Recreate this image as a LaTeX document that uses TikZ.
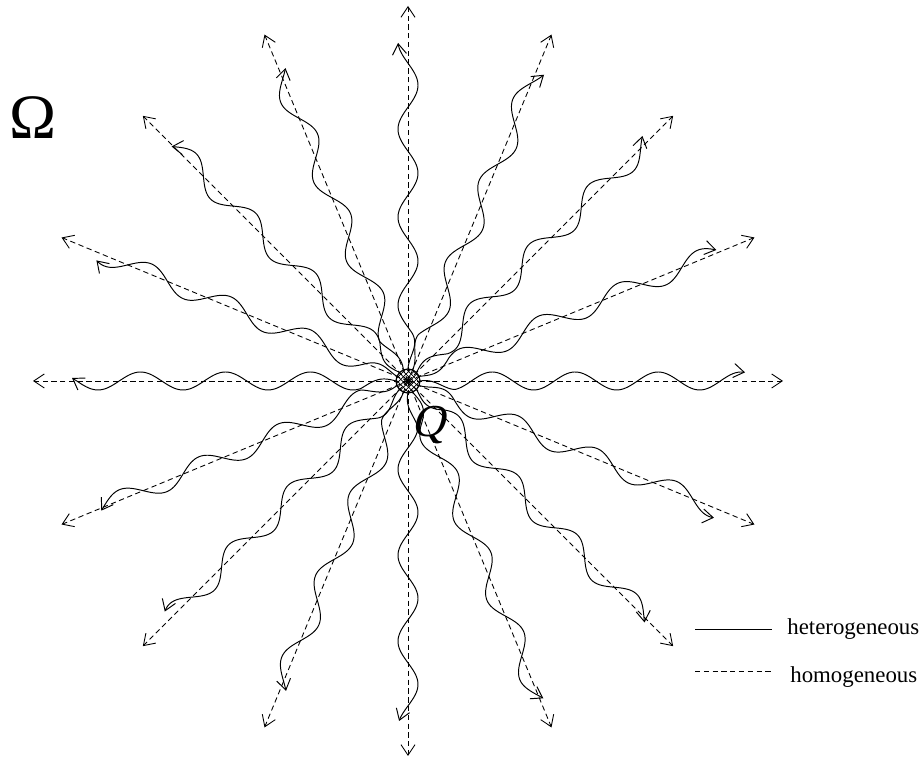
\documentclass[tikz,border=0pt]{standalone}
\usepackage{fontspec}
\setmainfont{Liberation Serif}
\newfontfamily\slantfont{Liberation Serif}[FakeSlant=0.25]
\usepackage{tikz}
\usetikzlibrary{arrows.meta,patterns}

\tikzset{
  tip/.style={-{Straight Barb[length=6pt,width=8pt]}},
  ray/.style={tip,dashed,dash pattern=on 3pt off 2pt,line width=0.5pt},
  wave/.style={tip,line width=0.55pt},
  legtext/.style={font=\fontsize{13}{15}\selectfont,anchor=base west,inner sep=0pt}
}

\begin{document}
\begin{tikzpicture}[x=0.02cm,y=0.02cm,line join=round]
\useasboundingbox (0,0) rectangle (923,759);
\coordinate (O) at (408,378);

% homogeneous rays
\foreach \a [count=\i] in {0,22.5,...,337.5}
  \draw[ray] (O) -- ++(\a:375) coordinate (h\i);

% heterogeneous rays: angle / length / amplitude / wavelength / phase
\foreach \a/\len/\amp/\wl/\ph in {
    0/337/9/83/85,
    22.5/335/10/86/200,
    45/339/11/84/30,
    67.5/335/11/88/300,
    90/338/10/88/140,
    112.5/336/11/86/250,
    135/333/11/84/20,
    157.5/334/10/86/170,
    180/336/9/85/217,
    202.5/333/10/86/60,
    225/335/11/84/310,
    247.5/333/11/88/110,
    270/340/10/86/260,
    292.5/345/11/86/15,
    315/338/11/84/190,
    337.5/335/10/86/330}
  \draw[wave] plot[domain=12:\len,samples=140,smooth]
    ({408+\x*cos(\a)-\amp*min(1,(\x-12)/35)*sin((360/\wl)*\x+\ph)*sin(\a)},
     {378+\x*sin(\a)+\amp*min(1,(\x-12)/35)*sin((360/\wl)*\x+\ph)*cos(\a)});

% source
\draw[line width=0.7pt,pattern=crosshatch] (O) circle (12);
\node[inner sep=0pt] (q) at (428,334) {\slantfont\fontsize{26}{28}\selectfont Q};
\node[inner sep=0pt] (om) at (33,641) {\fontsize{36}{40}\selectfont Ω};

% legend
\node[legtext] (het) at (787,124) {heterogeneous};
\node[legtext] (hom) at (790,76) {homogeneous};
\coordinate (l1) at (695,130);
\coordinate (l2) at (772,130);
\coordinate (l3) at (695,88);
\coordinate (l4) at (772,88);
\draw[line width=0.55pt] (l1) -- (l2);
\draw[line width=0.5pt,dash pattern=on 3pt off 2pt] (l3) -- (l4);
\end{tikzpicture}
\end{document}
